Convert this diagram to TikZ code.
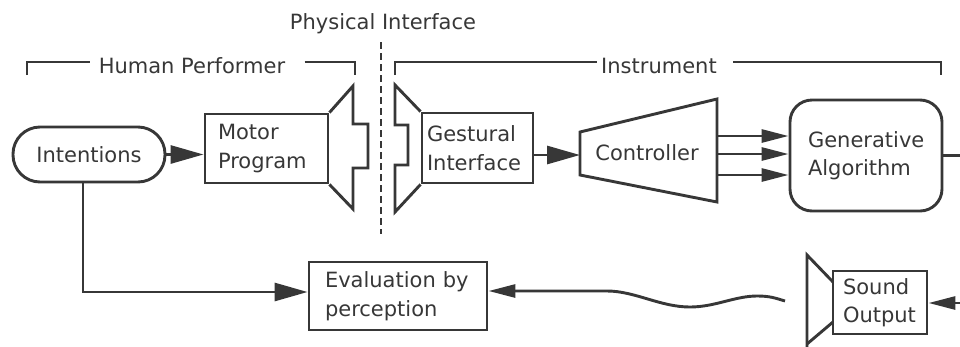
\documentclass[tikz,border=0pt]{standalone}
\usepackage{fontspec}
\setmainfont{DejaVu Sans}
\usetikzlibrary{arrows.meta}
\definecolor{ink}{RGB}{55,55,55}
\tikzset{every picture/.style={line width=2.9pt}}
\tikzset{
	txt/.style={text=ink, font=\fontsize{21}{28.5}\selectfont, inner sep=0pt},
	blk/.style={txt, draw=ink, rectangle, align=left},
	ln/.style={draw=ink},
	bigtip/.style={-{Triangle[length=33pt,width=18pt]}},
	smalltip/.style={-{Triangle[length=27pt,width=13pt]}}}

\begin{document}
\begin{tikzpicture}[x=1pt,y=1pt,yscale=-1,xscale=1]
	\useasboundingbox (0,0) rectangle (960,346);

	% Text Node
	\node[txt, anchor=base] (phys) at (383,29) {Physical Interface};
	% Text Node
	\node[txt, anchor=base] (hp) at (192,73) {Human Performer};
	% Text Node
	\node[txt, anchor=base] (instr) at (659,73) {Instrument};

	%Straight Lines: brackets
	\draw[ln] (27,75) -- (27,62) -- ([xshift=-7pt]hp.west |- 0,62);
	\draw[ln] ([xshift=18pt]hp.east |- 0,62) -- (355,62) -- (355,75);
	\draw[ln] (395,75) -- (395,62) -- ([xshift=-3pt]instr.west |- 0,62);
	\draw[ln] ([xshift=15pt]instr.east |- 0,62) -- (941,62) -- (941,75);
	%Straight Lines: interface border
	\draw[ln, dash pattern=on 7pt off 4pt] (381,42) -- (381,234);

	%Shape: Intentions
	\node[txt, draw=ink, rounded corners=27pt, minimum width=152pt, minimum height=55pt] (intent) at (89,154.5) {Intentions};
	%Shape: Motor Program
	\node[blk, text width=97pt, inner xsep=13pt, minimum height=69pt] (motor) at (266.5,148.5) {Motor\\Program};
	\draw[ln] (motor.north east) -- (353,86) -- (353,124) -- (368,124) -- (368,168) -- (353,168) -- (353,209) -- (motor.south east);
	%Shape: Gestural Interface
	\node[blk, text width=101pt, inner xsep=5pt, minimum height=70pt] (gest) at (477.5,148) {Gestural\\Interface};
	\draw[ln] (gest.north west) -- (395,85) -- (395,125) -- (408,125) -- (408,165) -- (395,165) -- (395,212) -- (gest.south west);
	%Shape: Controller
	\draw[ln] (580,132) -- (717,99) -- (717,202) -- (580,175) -- cycle;
	\node[txt] (ctrl) at (647,153) {Controller};
	\coordinate (ctrlin) at (580,155);
	\coordinate (co1) at (717,136);
	\coordinate (co2) at (717,154);
	\coordinate (co3) at (717,175);
	%Shape: Generative Algorithm
	\node[blk, text width=116pt, inner xsep=18pt, minimum height=111pt, rounded corners=22pt] (gen) at (866,155.5) {Generative\\Algorithm};
	\coordinate (genout) at (962,155.5);
	%Shape: Sound Output
	\node[blk, text width=74pt, inner xsep=10pt, minimum height=63pt] (sound) at (880,302.5) {Sound\\Output};
	\draw[ln] (833,282) -- (807,255) -- (807,350);
	\draw[ln] (833,322) -- (807,344);
	\coordinate (sndin) at (962,303);
	\coordinate (wave) at (785,301);
	%Shape: Evaluation
	\node[blk, text width=146pt, inner xsep=16pt, minimum height=68pt] (eval) at (398,296) {Evaluation by\\perception};

	%Straight Lines: connectors
	\draw[ln, bigtip] (intent) -- (intent.east -| motor.west);
	\draw[ln, bigtip] (gest.east |- ctrlin) -- (ctrlin);
	\foreach \i in {1,2,3}
		\draw[ln, smalltip] (co\i) -- (co\i -| gen.west);
	\draw[ln] (gen) -- (genout);
	\draw[ln, smalltip] (sndin) -- (sndin -| sound.east);
	\draw[ln, bigtip] ([xshift=-6pt]intent.south) |- ([yshift=-4pt]eval.west);
	%Curve Lines: sound travelling back
	\draw[ln, smalltip] (wave) .. controls (775,298) and (770,296) .. (757,296) .. controls (735,296) and (715,307) .. (690,307) .. controls (660,307) and (635,291) .. (607,291) -- ([yshift=-5pt]eval.east);

\end{tikzpicture}
\end{document}
